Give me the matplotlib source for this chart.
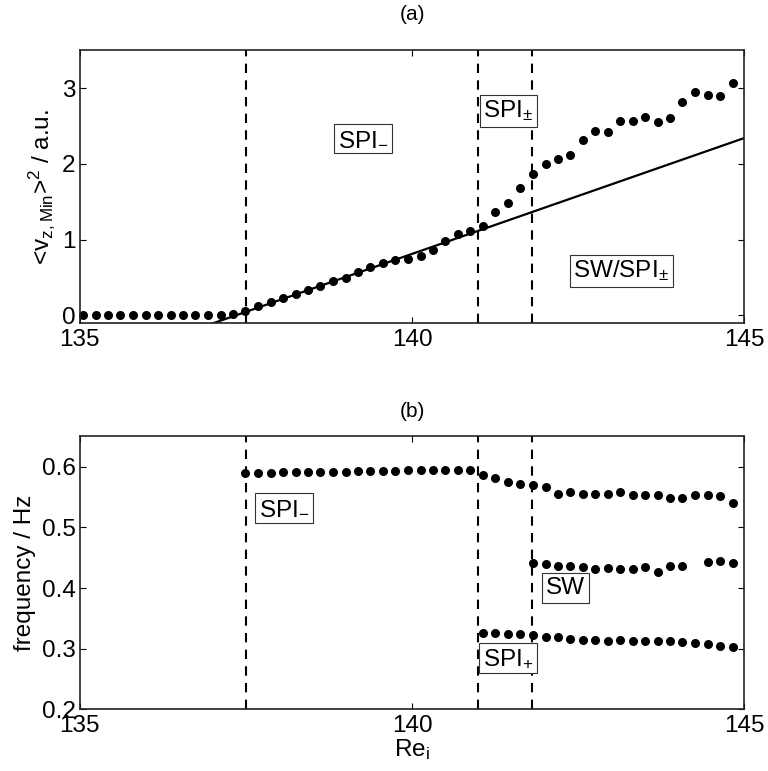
import numpy as np
import matplotlib
matplotlib.use("Agg")
import matplotlib.pyplot as plt

plt.rcParams["font.family"] = ["Liberation Sans", "DejaVu Sans"]
plt.rcParams["mathtext.default"] = "regular"
plt.rcParams["font.size"] = 17.5

# Re_i sample positions
re_i = [135.05, 135.24, 135.43, 135.61, 135.80, 135.99, 136.18, 136.37, 136.55,
        136.74, 136.93, 137.12, 137.31, 137.49, 137.68, 137.87, 138.06, 138.25,
        138.43, 138.62, 138.81, 139.00, 139.19, 139.37, 139.56, 139.75, 139.94,
        140.13, 140.31, 140.50, 140.69, 140.88, 141.07, 141.25, 141.44, 141.63,
        141.82, 142.01, 142.19, 142.38, 142.57, 142.76, 142.95, 143.13, 143.32,
        143.51, 143.70, 143.89, 144.07, 144.26, 144.45, 144.64, 144.83]

# (a) squared amplitude
vz2 = [0.0, 0.0, 0.0, 0.0, 0.0, 0.0, 0.0, 0.0, 0.0, 0.0, 0.0, 0.0, 0.02, 0.06,
       0.12, 0.18, 0.23, 0.28, 0.34, 0.39, 0.45, 0.50, 0.57, 0.64, 0.69, 0.73,
       0.74, 0.79, 0.87, 0.98, 1.07, 1.11, 1.18, 1.36, 1.49, 1.68, 1.86, 2.00,
       2.06, 2.12, 2.32, 2.43, 2.42, 2.56, 2.56, 2.62, 2.55, 2.61, 2.82, 2.95,
       2.91, 2.89, 3.06]

# linear fit
fit_x = [136.95, 145.0]
fit_y = [-0.12, 2.34]

# (b) frequencies: SPI- branch (from 137.49), upper, SW and SPI+ branches
f_spi_minus = [0.589, 0.590, 0.590, 0.591, 0.591, 0.591, 0.592, 0.592, 0.592,
               0.593, 0.593, 0.593, 0.593, 0.594, 0.594, 0.595, 0.595, 0.595,
               0.594]
f_upper = [0.586, 0.581, 0.574, 0.572, 0.570, 0.567, 0.555, 0.559, 0.555,
           0.555, 0.555, 0.559, 0.554, 0.554, 0.554, 0.548, 0.548, 0.553,
           0.553, 0.552, 0.540]
f_sw = [0.441, 0.439, 0.437, 0.437, 0.434, 0.431, 0.433, 0.431, 0.431, 0.434,
        0.427, 0.436, 0.436, np.nan, 0.443, 0.444, 0.441]
f_spi_plus = [0.326, 0.326, 0.324, 0.324, 0.323, 0.319, 0.320, 0.316, 0.314,
              0.315, 0.312, 0.315, 0.313, 0.312, 0.312, 0.312, 0.311, 0.309,
              0.308, 0.304, 0.302]

# transitions
re_crit = [137.5, 141.0, 141.8]

ms = 6.5
dash_kw = dict(color="k", lw=1.5, dashes=(4.5, 3.5))
box_kw = dict(boxstyle="square,pad=0.15", fc="white", ec="#333333", lw=0.8)

fig = plt.figure(figsize=(7.68, 7.71), dpi=100)
ax1 = fig.add_axes([0.104, 0.581, 0.865, 0.354])
ax2 = fig.add_axes([0.104, 0.080, 0.865, 0.354])

for ax in (ax1, ax2):
    for xc in re_crit:
        ax.axvline(xc, **dash_kw)
    ax.tick_params(direction="in", top=True, right=True, length=4, width=0.8,
                   pad=3)
    ax.tick_params(axis="x", pad=4)
    for s in ax.spines.values():
        s.set_linewidth(1.2)
        s.set_color("#222222")
    ax.set_xlim(135, 145)
    ax.set_xticks([135, 140, 145])

# panel (a)
ax1.plot(fit_x, fit_y, color="k", lw=1.6)
ax1.plot(re_i, vz2, "o", color="k", ms=ms, mew=0, clip_on=False)
ax1.set_ylim(-0.1, 3.5)
ax1.set_yticks([0, 1, 2, 3])
ax1.set_ylabel(r"<v$_{z,Min}$>$^2$ / a.u.")
ax1.set_title("(a)", fontsize=15, pad=22)
ax1.text(139.26, 2.33, r"SPI$_{-}$", ha="center", va="center", bbox=box_kw)
ax1.text(141.45, 2.70, r"SPI$_{\pm}$", ha="center", va="center", bbox=box_kw)
ax1.text(143.15, 0.59, r"SW/SPI$_{\pm}$", ha="center", va="center", bbox=box_kw)

# panel (b)
ax2.plot(re_i[13:32], f_spi_minus, "o", color="k", ms=ms, mew=0)
ax2.plot(re_i[32:], f_upper, "o", color="k", ms=ms, mew=0)
ax2.plot(re_i[36:], f_sw, "o", color="k", ms=ms, mew=0)
ax2.plot(re_i[32:], f_spi_plus, "o", color="k", ms=ms, mew=0)
ax2.set_ylim(0.2, 0.65)
ax2.set_yticks([0.2, 0.3, 0.4, 0.5, 0.6])
ax2.set_ylabel("frequency / Hz")
ax2.set_xlabel(r"Re$_i$", labelpad=0)
ax2.set_title("(b)", fontsize=15, pad=14)
ax2.text(138.07, 0.532, r"SPI$_{-}$", ha="center", va="center", bbox=box_kw)
ax2.text(142.31, 0.400, "SW", ha="center", va="center", bbox=box_kw)
ax2.text(141.45, 0.284, r"SPI$_{+}$", ha="center", va="center", bbox=box_kw)

fig.savefig("out.png", dpi=100)
